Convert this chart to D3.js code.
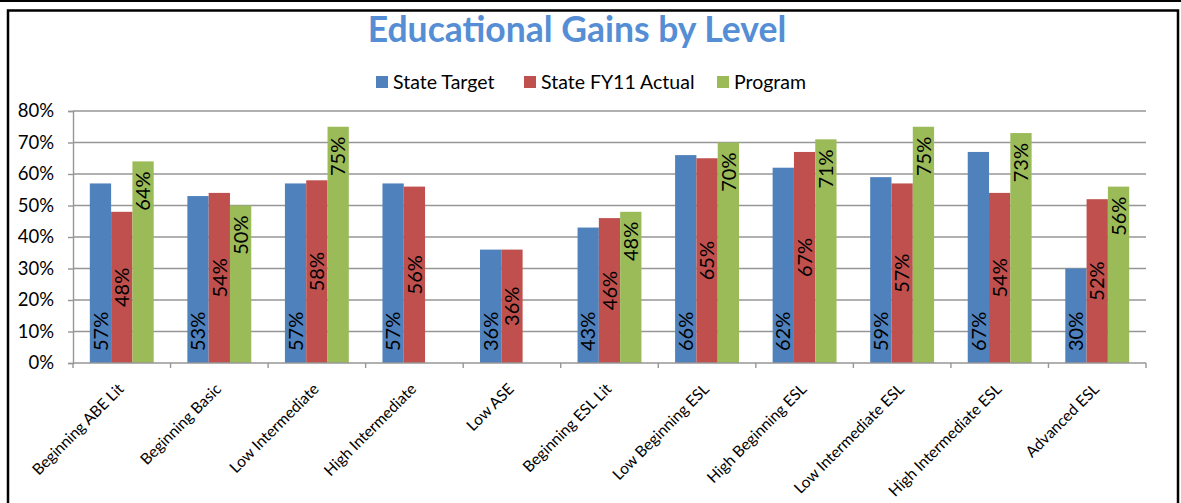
<!DOCTYPE html>
<html>
<head>
<meta charset="utf-8">
<script src="https://cdn.jsdelivr.net/npm/d3@7"></script>
<style>
  html, body { margin: 0; padding: 0; background: #fff; }
  svg { display: block; font-family: Lato, "Noto Sans", sans-serif; }
</style>
</head>
<body>
<div id="chart"></div>
<script>
const categories = ["Beginning ABE Lit", "Beginning Basic", "Low Intermediate", "High Intermediate",
  "Low ASE", "Beginning ESL Lit", "Low Beginning ESL", "High Beginning ESL",
  "Low Intermediate ESL", "High Intermediate ESL", "Advanced ESL"]
const seriesNames = ["State Target", "State FY11 Actual", "Program"]
const stateTarget = [57, 53, 57, 57, 36, 43, 66, 62, 59, 67, 30]
const stateActual = [48, 54, 58, 56, 36, 46, 65, 67, 57, 54, 52]
const program = [64, 50, 75, null, null, 48, 70, 71, 75, 73, 56]
const yTicks = [0, 10, 20, 30, 40, 50, 60, 70, 80]
const colors = ["#4F81BD", "#C0504D", "#9BBB59"]

const width = 1181
const height = 503
const margin = {top: 111, right: 35, bottom: 140, left: 73}

const svg = d3.select("#chart")
  .append("svg")
  .attr("width", width)
  .attr("height", height)

const layer_frame = svg.append("g")
const layer_grid = svg.append("g")
const layer_bars = svg.append("g")
const layer_axes = svg.append("g")
const layer_labels = svg.append("g")
const layer_legend = svg.append("g")

// outer frame like the pasted excel object
layer_frame.append("line")
  .attr("x1", 0).attr("x2", width).attr("y1", 1).attr("y2", 1)
  .attr("stroke", "#000").attr("stroke-width", 2)
layer_frame.append("rect")
  .attr("x", 8).attr("y", 10.5)
  .attr("width", 1170).attr("height", 520)
  .attr("fill", "none").attr("stroke", "#000").attr("stroke-width", 2.5)

const x0 = d3.scaleBand()
  .domain(categories)
  .range([margin.left, width - margin.right])
  .paddingInner(0).paddingOuter(0)

const x1 = d3.scaleBand()
  .domain(seriesNames)
  .range([0, x0.bandwidth()])
  .paddingInner(0).paddingOuter(0.79)

const y = d3.scaleLinear()
  .domain([0, 80])
  .range([height - margin.bottom, margin.top])

const rows = categories.map((c, i) => ({
  category: c,
  values: [stateTarget[i], stateActual[i], program[i]]
}))

// gridlines
layer_grid.selectAll("line")
  .data(yTicks.filter(t => t > 0))
  .enter().append("line")
  .attr("x1", margin.left).attr("x2", width - margin.right)
  .attr("y1", d => y(d)).attr("y2", d => y(d))
  .attr("stroke", "#969696").attr("stroke-width", 1.4)

// bars
const groups = layer_bars.selectAll("g")
  .data(rows)
  .enter().append("g")
  .attr("transform", d => `translate(${x0(d.category)},0)`)

groups.selectAll("rect")
  .data(d => d.values.map((v, k) => ({series: seriesNames[k], k, v})).filter(e => e.v != null))
  .enter().append("rect")
  .attr("x", d => x1(d.series))
  .attr("y", d => y(d.v))
  .attr("width", x1.bandwidth())
  .attr("height", d => y(0) - y(d.v))
  .attr("fill", d => colors[d.k])

// axes
const yAxis = layer_axes.append("g")
  .attr("transform", `translate(${margin.left},0)`)
  .call(d3.axisLeft(y).tickValues(yTicks).tickSize(5).tickPadding(14).tickFormat(d => d + "%"))
yAxis.select(".domain").attr("stroke", "#969696").attr("stroke-width", 1.4)
yAxis.selectAll(".tick line").attr("stroke", "#969696").attr("stroke-width", 1.4)
yAxis.selectAll(".tick text")
  .attr("font-family", "Lato, sans-serif")
  .attr("font-size", 18.5).attr("fill", "#000")

const xAxis = layer_axes.append("g")
  .attr("transform", `translate(0,${y(0)})`)
xAxis.append("line")
  .attr("x1", margin.left).attr("x2", width - margin.right)
  .attr("stroke", "#969696").attr("stroke-width", 1.4)
xAxis.selectAll(".tk")
  .data(categories.concat(["end"]))
  .enter().append("line")
  .attr("class", "tk")
  .attr("x1", (d, i) => i < categories.length ? x0(d) : x0.range()[1])
  .attr("x2", (d, i) => i < categories.length ? x0(d) : x0.range()[1])
  .attr("y1", 0).attr("y2", 5)
  .attr("stroke", "#969696").attr("stroke-width", 1.4)
xAxis.selectAll("text")
  .data(categories)
  .enter().append("text")
  .attr("transform", d => `translate(${x0(d) + x0.bandwidth() / 2 + 3},${27}) rotate(-45)`)
  .attr("text-anchor", "end")
  .attr("font-size", 15.5)
  .attr("fill", "#000")
  .text(d => d)

// data labels, rotated
const labelData = []
rows.forEach(r => r.values.forEach((v, k) => {
  if (v != null) labelData.push({category: r.category, series: seriesNames[k], k, v})
}))
layer_labels.selectAll("text")
  .data(labelData)
  .enter().append("text")
  .attr("transform", d => {
    const cx = x0(d.category) + x1(d.series) + x1.bandwidth() / 2
    let ly
    if (d.k === 0) ly = y(0) - 12
    else if (d.k === 1) ly = (y(0) + y(d.v)) / 2
    else ly = y(d.v) + 10
    return `translate(${cx},${ly}) rotate(-90)`
  })
  .attr("text-anchor", d => d.k === 0 ? "start" : d.k === 1 ? "middle" : "end")
  .attr("dy", "0.36em")
  .attr("font-size", 20)
  .attr("fill", "#000")
  .text(d => d.v + "%")

// title
svg.append("text")
  .attr("x", 577).attr("y", 42)
  .attr("text-anchor", "middle")
  .attr("font-size", 35.5).attr("font-weight", "bold")
  .attr("fill", "#558ED5")
  .text("Educational Gains by Level")

// legend
const legendX = [376, 524, 717]
const leg = layer_legend.selectAll("g")
  .data(seriesNames)
  .enter().append("g")
  .attr("transform", (d, i) => `translate(${legendX[i]},76)`)
leg.append("rect")
  .attr("width", 12).attr("height", 12)
  .attr("fill", (d, i) => colors[i])
leg.append("text")
  .attr("x", 17).attr("y", 6).attr("dy", "0.35em")
  .attr("font-size", 19.5).attr("fill", "#000")
  .text(d => d)
</script>
</body>
</html>
